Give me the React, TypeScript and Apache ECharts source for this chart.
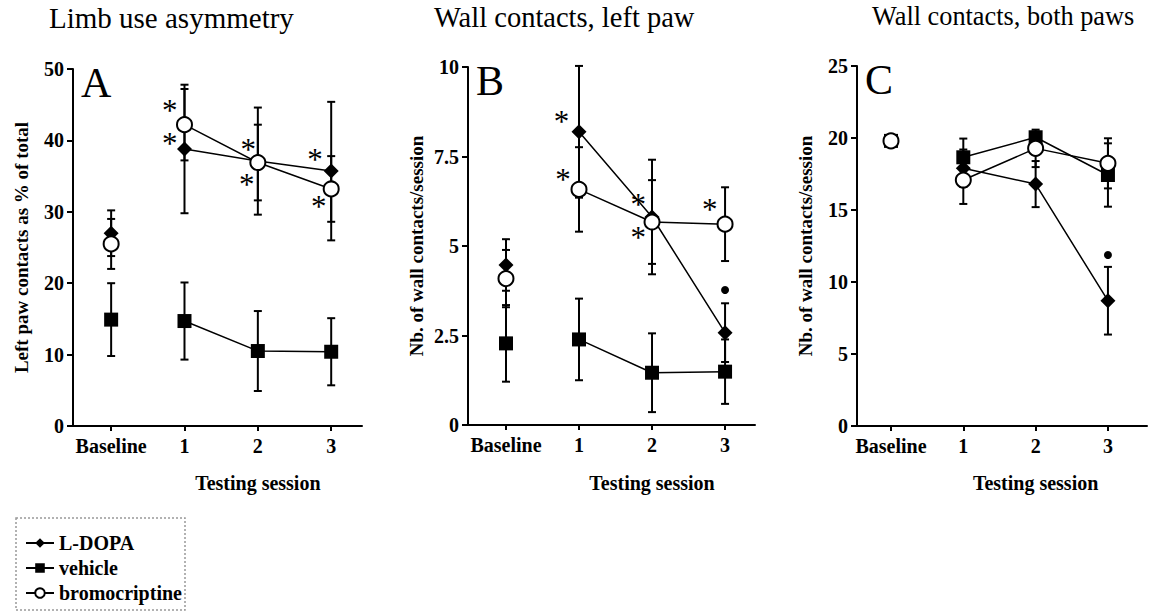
import React, { useEffect, useRef } from "react";
import * as echarts from "echarts";

const FONT = '"Liberation Serif", "Times New Roman", serif';

const sessionLabels = ["Baseline", "1", "2", "3"];
const groupNames = ["L-DOPA", "vehicle", "bromocriptine"];

// Panel A: limb use asymmetry (% of total)
const aLdopa = [27.0, 38.8, 37.1, 35.7];
const aLdopaErr = [3.2, 9.0, 7.5, 9.7];
const aVehicle = [14.9, 14.7, 10.5, 10.4];
const aVehicleErr = [5.1, 5.4, 5.6, 4.7];
const aBromo = [25.5, 42.2, 36.9, 33.2];
const aBromoErr = [3.5, 5.0, 5.3, 4.6];
const aStars = [[0.8, 45.0], [0.8, 40.4], [1.87, 39.6], [1.85, 34.7], [2.78, 38.2], [2.83, 31.6]];
const aDots: number[][] = [];

// Panel B: wall contacts, left paw
const bLdopa = [4.47, 8.19, 5.81, 2.58];
const bLdopaErr = [0.72, 1.84, 1.6, 0.82];
const bVehicle = [2.28, 2.39, 1.46, 1.49];
const bVehicleErr = [1.07, 1.14, 1.1, 0.9];
const bBromo = [4.09, 6.58, 5.67, 5.61];
const bBromoErr = [0.8, 1.18, 1.17, 1.03];
const bStars = [[0.76, 8.65], [0.78, 7.02], [1.81, 6.33], [1.81, 5.4], [2.79, 6.19]];
const bDots = [[3, 3.77]];

// Panel C: wall contacts, both paws
const cLdopa = [19.8, 17.9, 16.8, 8.7];
const cLdopaErr = [0.3, 1.3, 1.6, 2.35];
const cVehicle = [19.8, 18.66, 20.05, 17.43];
const cVehicleErr = [0.3, 1.3, 0.4, 2.2];
const cBromo = [19.8, 17.08, 19.28, 18.24];
const cBromoErr = [0.3, 1.66, 1.3, 1.74];
const cStars: number[][] = [];
const cDots = [[3, 11.88]];

const yMax = [50, 10, 25];
const yInterval = [10, 2.5, 5];
const yNames = [
  "Left paw contacts as % of total",
  "Nb. of wall contacts/session",
  "Nb. of wall contacts/session",
];
const titles = ["Limb use asymmetry", "Wall contacts, left paw", "Wall contacts, both paws"];
const letters = ["A", "B", "C"];

const panels = [
  { vals: [aLdopa, aVehicle, aBromo], errs: [aLdopaErr, aVehicleErr, aBromoErr], stars: aStars, dots: aDots },
  { vals: [bLdopa, bVehicle, bBromo], errs: [bLdopaErr, bVehicleErr, bBromoErr], stars: bStars, dots: bDots },
  { vals: [cLdopa, cVehicle, cBromo], errs: [cLdopaErr, cVehicleErr, cBromoErr], stars: cStars, dots: cDots },
];

const grids = [
  { left: 73, top: 69, width: 289, height: 357 },
  { left: 468, top: 67, width: 287, height: 358 },
  { left: 857, top: 66, width: 290, height: 360 },
];
const xRanges = [
  [-0.52, 3.42],
  [-0.52, 3.41],
  [-0.47, 3.54],
];
const titleLayout = [
  { left: 49, size: 29 },
  { left: 434, size: 28.5 },
  { left: 872, size: 26.3 },
];

const symbols = [
  { symbol: "diamond", size: 15, color: "#000", border: "#000", z: 4 },
  { symbol: "rect", size: 14, color: "#000", border: "#000", z: 3 },
  { symbol: "circle", size: 15, color: "#fff", border: "#000", z: 5 },
];

function errorSeries(p: number, vals: number[], errs: number[], z: number) {
  return {
    type: "custom",
    xAxisIndex: p,
    yAxisIndex: p,
    z,
    silent: true,
    data: vals.map((v, i) => [i, v - errs[i], v + errs[i]]),
    encode: { x: 0, y: [1, 2] },
    renderItem: (_params: any, api: any) => {
      const x = api.value(0);
      const lo = api.coord([x, api.value(1)]);
      const hi = api.coord([x, api.value(2)]);
      const w = 4;
      const style = { stroke: "#000", lineWidth: 2 };
      return {
        type: "group",
        children: [
          { type: "line", shape: { x1: lo[0], y1: lo[1], x2: hi[0], y2: hi[1] }, style },
          { type: "line", shape: { x1: hi[0] - w, y1: hi[1], x2: hi[0] + w, y2: hi[1] }, style },
          { type: "line", shape: { x1: lo[0] - w, y1: lo[1], x2: lo[0] + w, y2: lo[1] }, style },
        ],
      };
    },
  };
}

function starSeries(p: number, stars: number[][]) {
  return {
    type: "custom",
    xAxisIndex: p,
    yAxisIndex: p,
    z: 6,
    silent: true,
    data: stars,
    renderItem: (_params: any, api: any) => {
      const pt = api.coord([api.value(0), api.value(1)]);
      return {
        type: "text",
        x: pt[0],
        y: pt[1] + 6,
        style: {
          text: "*",
          font: `31px ${FONT}`,
          fill: "#000",
          align: "center",
          verticalAlign: "middle",
        },
      };
    },
  };
}

export default function App() {
  const ref = useRef<HTMLDivElement>(null);
  useEffect(() => {
    document.body.style.margin = "0";
    const chart = echarts.init(ref.current!, null, { renderer: "svg" });

    const series: any[] = [];
    panels.forEach((panel, p) => {
      groupNames.forEach((name, g) => {
        const s = symbols[g];
        series.push({
          type: "line",
          name,
          xAxisIndex: p,
          yAxisIndex: p,
          z: s.z,
          symbol: s.symbol,
          symbolSize: s.size,
          showAllSymbol: true,
          itemStyle: { color: s.color, borderColor: s.border, borderWidth: g === 2 ? 2 : 0, opacity: 1 },
          lineStyle: { color: "#000", width: 1.5 },
          data: [1, 2, 3].map((i) => [i, panel.vals[g][i]]),
        });
      });
    });
    panels.forEach((panel, p) => {
      groupNames.forEach((name, g) => {
        const s = symbols[g];
        series.push({
          type: "scatter",
          name,
          xAxisIndex: p,
          yAxisIndex: p,
          z: s.z,
          symbol: s.symbol,
          symbolSize: s.size,
          itemStyle: { color: s.color, borderColor: s.border, borderWidth: g === 2 ? 2 : 0, opacity: 1 },
          data: [[0, panel.vals[g][0]]],
        });
        series.push(errorSeries(p, panel.vals[g], panel.errs[g], 2));
      });
      series.push(starSeries(p, panel.stars));
      series.push({
        type: "scatter",
        xAxisIndex: p,
        yAxisIndex: p,
        z: 6,
        symbol: "circle",
        symbolSize: 8,
        itemStyle: { color: "#000", opacity: 1 },
        data: panel.dots,
      });
    });

    const axisLine = { show: true, onZero: false, lineStyle: { color: "#000", width: 2 } };
    const labelStyle = { color: "#000", fontFamily: FONT, fontWeight: "bold" as const, fontSize: 20 };

    chart.setOption({
      animation: false,
      backgroundColor: "#fff",
      textStyle: { fontFamily: FONT },
      grid: grids,
      xAxis: grids.map((_g, p) => ({
        type: "value",
        gridIndex: p,
        min: xRanges[p][0],
        max: xRanges[p][1],
        splitLine: { show: false },
        axisLine,
        axisTick: { show: true, length: 5, lineStyle: { color: "#000", width: 2 }, customValues: [0, 1, 2, 3] },
        axisLabel: {
          ...labelStyle,
          margin: 10,
          customValues: [0, 1, 2, 3],
          formatter: (v: number) => sessionLabels[Math.round(v)] ?? "",
        },
      })),
      yAxis: grids.map((_g, p) => ({
        type: "value",
        gridIndex: p,
        min: 0,
        max: yMax[p],
        interval: yInterval[p],
        splitLine: { show: false },
        axisLine,
        axisTick: { show: true, length: 6, lineStyle: { color: "#000", width: 2 } },
        axisLabel: { ...labelStyle, margin: 9 },
        name: yNames[p],
        nameLocation: "middle",
        nameGap: 42,
        nameTextStyle: { ...labelStyle, fontSize: 19 },
      })),
      legend: {
        data: groupNames,
        orient: "vertical",
        left: 20,
        top: 527,
        itemWidth: 28,
        itemHeight: 12,
        itemGap: 3,
        textStyle: { ...labelStyle, fontSize: 20, lineHeight: 22 },
        selectedMode: false,
      },
      series,
    });

    const graphic: any[] = [];
    titles.forEach((t, p) => {
      graphic.push({
        type: "text",
        left: titleLayout[p].left,
        top: 3,
        style: { text: t, font: `${titleLayout[p].size}px ${FONT}`, fill: "#000" },
      });
      graphic.push({
        type: "text",
        x: grids[p].left + 8,
        y: grids[p].top + 14,
        style: { text: letters[p], font: `42px ${FONT}`, fill: "#000", align: "left", verticalAlign: "middle" },
      });
      const px = chart.convertToPixel({ xAxisIndex: p }, 2) as number;
      graphic.push({
        type: "text",
        x: px,
        y: 483,
        style: {
          text: "Testing session",
          font: `bold 20px ${FONT}`,
          fill: "#000",
          align: "center",
          verticalAlign: "middle",
        },
      });
    });
    graphic.push({
      type: "rect",
      shape: { x: 16, y: 518, width: 169, height: 92 },
      style: { fill: "none", stroke: "#999", lineWidth: 1.5, lineDash: [2, 2] },
    });
    chart.setOption({ graphic });

    return () => chart.dispose();
  }, []);
  return <div ref={ref} style={{ width: 1159, height: 613 }} />;
}
